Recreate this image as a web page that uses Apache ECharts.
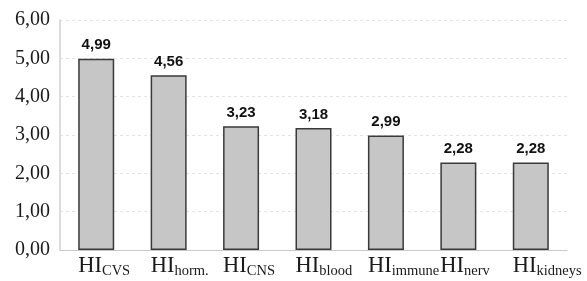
<!DOCTYPE html>
<html><head><meta charset="utf-8">
<script src="https://cdn.jsdelivr.net/npm/echarts@6/dist/echarts.min.js"></script>
<style>html,body{margin:0;padding:0;background:#fff}#c{width:587px;height:281px}</style>
</head><body><div id="c"></div>
<script>
var subscripts = ['CVS', 'horm.', 'CNS', 'blood', 'immune', 'nerv', 'kidneys'];
var values = [4.99, 4.56, 3.23, 3.18, 2.99, 2.28, 2.28];
var yTicks = [0, 1, 2, 3, 4, 5, 6];

var chart = echarts.init(document.getElementById('c'), null, {renderer: 'canvas'});
function fmt(v){ return v.toFixed(2).replace('.', ','); }
chart.setOption({
  animation: false,
  grid: {left: 60, right: 20, top: 20, bottom: 31},
  xAxis: {
    type: 'category',
    data: subscripts,
    axisLine: {lineStyle: {color: '#c8c8c8', width: 1}},
    axisTick: {show: false},
    axisLabel: {
      interval: 0,
      hideOverlap: false,
      margin: 5,
      align: 'left',
      padding: [0, 0, 0, -18],
      formatter: function(v){ return '{a|HI}{b|' + v + '}'; },
      rich: {
        a: {fontFamily: 'Liberation Serif', fontSize: 22.5, color: '#1a1a1a', lineHeight: 24, verticalAlign: 'top'},
        b: {fontFamily: 'Liberation Serif', fontSize: 14.5, color: '#1a1a1a', lineHeight: 15, verticalAlign: 'bottom', padding: [18, 0, 0, 0]}
      }
    }
  },
  yAxis: {
    type: 'value',
    min: yTicks[0], max: yTicks[yTicks.length - 1], interval: 1,
    axisLine: {show: true, lineStyle: {color: '#d0d0d0', width: 1.5}},
    axisTick: {show: false},
    splitLine: {lineStyle: {color: '#e4e4e4', type: [3, 3], width: 1}},
    axisLabel: {
      margin: 10,
      fontFamily: 'Liberation Serif', fontSize: 20, color: '#1a1a1a',
      formatter: function(v){ return fmt(v); }
    }
  },
  series: [{
    type: 'bar',
    data: values,
    barWidth: 36,
    itemStyle: {color: '#c6c6c6', borderColor: '#3a3a3a', borderWidth: 1.5},
    label: {
      show: true, position: 'top', distance: 6,
      fontFamily: 'Liberation Sans', fontWeight: 'bold', fontSize: 15, color: '#111',
      formatter: function(p){ return fmt(p.value); }
    }
  }]
});
</script></body></html>
